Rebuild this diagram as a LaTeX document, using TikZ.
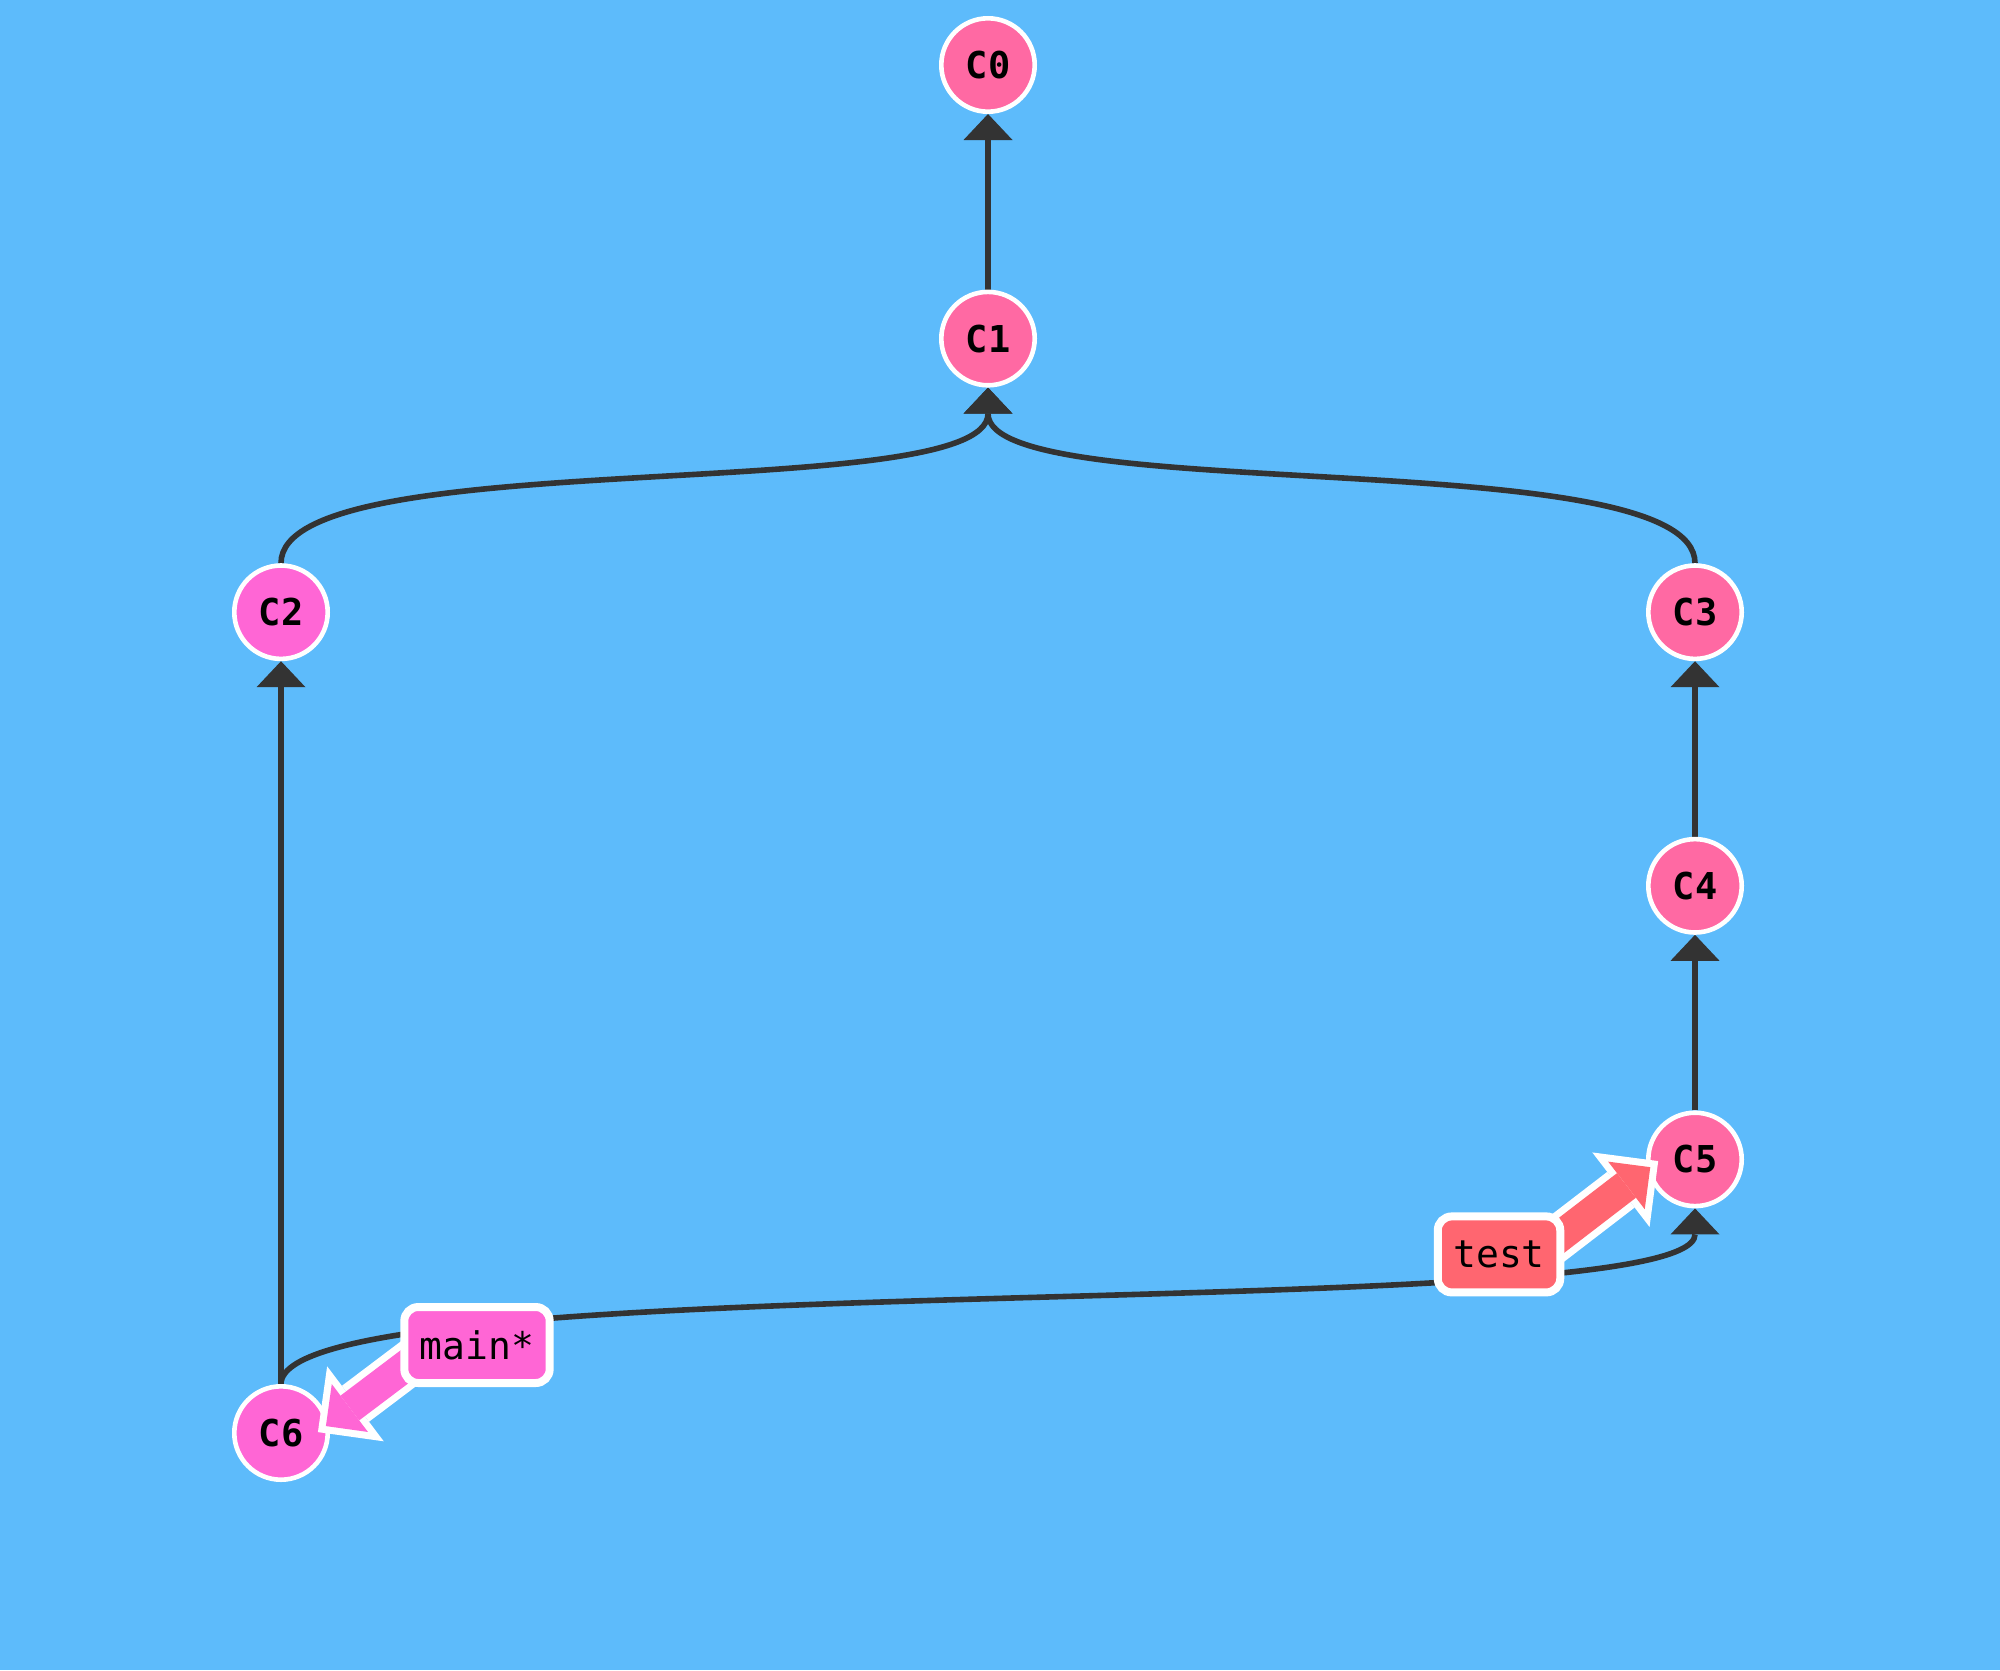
\documentclass[tikz,border=0pt]{standalone}
\usepackage{fontspec}
\setmonofont{DejaVu Sans Mono}
\usepackage{tikz}
\usetikzlibrary{arrows.meta, positioning, backgrounds}
\definecolor{fondoCielo}{HTML}{5DBBFB}
\definecolor{rosaCommit}{HTML}{FF69A3}
\definecolor{rosaMain}{HTML}{FF66D5}
\definecolor{rojoTest}{HTML}{FF6670}
\definecolor{grisArista}{HTML}{333333}
\pgfdeclarelayer{front}
\pgfsetlayers{background,main,front}

\begin{document}
\begin{tikzpicture}[
        node distance=136.8pt and 353.5pt, on grid,
        commit/.style={circle, draw=white, fill=rosaCommit, line width=2.3pt, minimum size=46.7pt,
            inner sep=0pt, font=\ttfamily\bfseries\fontsize{18.5}{18.5}\selectfont},
        branchbox/.style={draw=white, line width=4pt, rounded corners=7pt, minimum height=38pt,
            inner xsep=7.75pt, inner ysep=0pt, font=\ttfamily\fontsize{19}{19}\selectfont},
        parent/.style={draw=grisArista, line width=2.8pt, -{Triangle[length=13pt, width=24.5pt, line width=0pt]}},
        ptrout/.style={draw=white, line width=22.5pt, shorten >=-7pt, shorten <=-24pt,
            -{Triangle[length=23.5pt, width=47pt, line width=0pt]}},
        ptrin/.style={line width=15.5pt, shorten >=-2pt, shorten <=-24pt,
            -{Triangle[length=15pt, width=30pt, line width=0pt]}}
    ]
        \useasboundingbox (0,0) rectangle (1000pt,-835pt);
        \begin{scope}[on background layer]
            \fill[fondoCielo] (0,0) rectangle (1000pt,-835pt);
        \end{scope}

        \node[commit] (C0) at (494pt,-32.5pt) {C0};
        \node[commit, below=of C0] (C1) {C1};
        \node[commit, fill=rosaMain, below left=of C1] (C2) {C2};
        \node[commit, below right=of C1] (C3) {C3};
        \node[commit, below=of C3] (C4) {C4};
        \node[commit, below=of C4] (C5) {C5};
        \node[commit, fill=rosaMain, below=410.4pt of C2] (C6) {C6};

        \begin{scope}[on background layer]
            \draw[parent] (C1) -- (C0);
            \draw[parent] (C2.north) .. controls +(0,61pt) and +(0,-60pt) .. (C1.south);
            \draw[parent] (C3.north) .. controls +(0,61pt) and +(0,-60pt) .. (C1.south);
            \draw[parent] (C4) -- (C3);
            \draw[parent] (C5) -- (C4);
            \draw[parent] (C6) -- (C2);
            \draw[parent] (C6.north) .. controls +(0,61pt) and +(0,-60pt) .. (C5.south);
        \end{scope}

        % etiquetas de rama
        \begin{pgfonlayer}{front}
            \node[branchbox, fill=rojoTest, below left=47.5pt and 98pt of C5] (test) {test};
            \node[branchbox, fill=rosaMain, above right=44pt and 98pt of C6] (main) {main*};
        \end{pgfonlayer}

        \draw[ptrout] (test.18) -- (C5.192);
        \draw[ptrin, draw=rojoTest, -{Triangle[length=15pt, width=30pt, line width=0pt, color=rojoTest]}] (test.18) -- (C5.192);
        \draw[ptrout] (main.198) -- (C6.11);
        \draw[ptrin, draw=rosaMain] (main.198) -- (C6.11);
    \end{tikzpicture}
\end{document}
